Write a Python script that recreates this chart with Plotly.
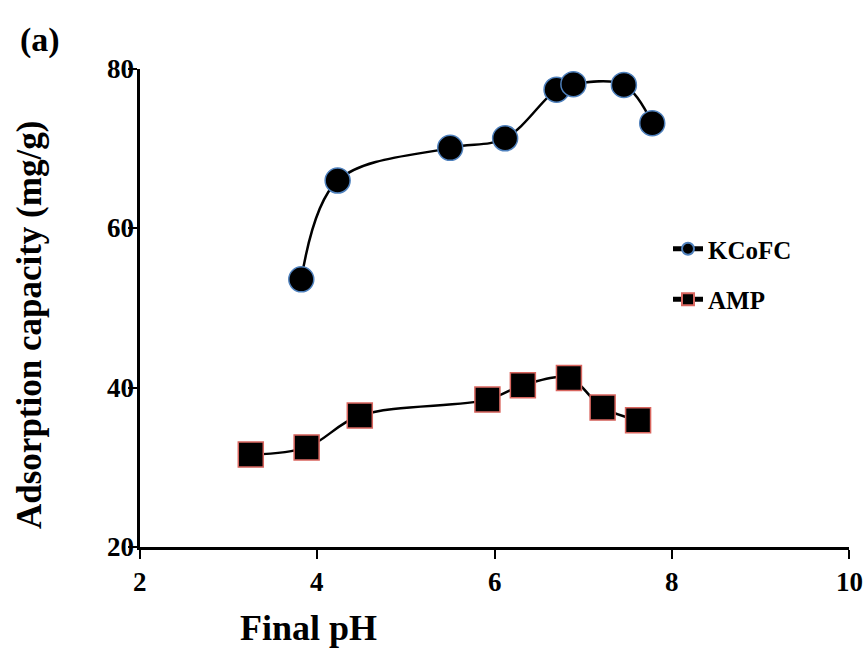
import plotly.graph_objects as go

# Data
kcofc_ph = [3.82, 4.23, 5.50, 6.12, 6.70, 6.89, 7.46, 7.78]
kcofc_q = [53.6, 66.0, 70.1, 71.3, 77.4, 78.1, 78.0, 73.2]
amp_ph = [3.25, 3.88, 4.48, 5.92, 6.32, 6.84, 7.22, 7.62]
amp_q = [31.6, 32.5, 36.5, 38.5, 40.3, 41.2, 37.5, 35.9]
x_ticks = [2, 4, 6, 8, 10]
y_ticks = [20, 40, 60, 80]

FONT = "Liberation Serif"
L, R, T, B = 140, 18, 69, 117
W, H = 867, 664
pw, ph = W - L - R, H - T - B


def px(xp):
    return (xp - L) / pw


def py(yp):
    return (H - B - yp) / ph


fig = go.Figure()
fig.add_trace(go.Scatter(
    x=kcofc_ph, y=kcofc_q, name="KCoFC", mode="lines+markers",
    legendgroup="a",
    line=dict(color="black", width=2.5, shape="spline", smoothing=1.0),
    marker=dict(symbol="circle", size=25, color="black",
                line=dict(color="#4f81bd", width=1.5)),
))
fig.add_trace(go.Scatter(
    x=amp_ph, y=amp_q, name="AMP", mode="lines+markers",
    legendgroup="b",
    line=dict(color="black", width=2.5, shape="spline", smoothing=1.0),
    marker=dict(symbol="square", size=25, color="black",
                line=dict(color="#d9665f", width=1.5)),
))

TICK_SIZE = 27
annotations = [
    dict(text="<b>Final pH</b>", x=px(308), y=py(628),
         xanchor="center", yanchor="middle", xref="paper", yref="paper",
         showarrow=False, font=dict(family=FONT, size=36)),
    dict(text="<b>Adsorption capacity (mg/g)</b>", x=px(29), y=py(325),
         xanchor="center", yanchor="middle",
         xref="paper", yref="paper", showarrow=False, textangle=-90,
         font=dict(family=FONT, size=35)),
    dict(text="<b>(a)</b>", x=px(40), y=py(40),
         xanchor="center", yanchor="middle", xref="paper", yref="paper",
         showarrow=False, font=dict(family=FONT, size=34)),
]
# tick labels placed with the axis scales
for v in x_ticks:
    annotations.append(dict(text=f"<b>{v}</b>", x=v, xref="x", y=py(582),
                            yref="paper", xanchor="center", yanchor="middle",
                            showarrow=False,
                            font=dict(family=FONT, size=TICK_SIZE)))
for v in y_ticks:
    annotations.append(dict(text=f"<b>{v}</b>", y=v, yref="y", x=px(136),
                            xref="paper", xanchor="right", yanchor="middle",
                            showarrow=False,
                            font=dict(family=FONT, size=TICK_SIZE)))

fig.update_layout(
    width=W, height=H,
    margin=dict(l=L, r=R, t=T, b=B),
    paper_bgcolor="white", plot_bgcolor="white",
    font=dict(family=FONT, color="black"),
    showlegend=True,
    legend=dict(x=px(668), y=py(226), xanchor="left", yanchor="top",
                font=dict(family=FONT, size=25, color="black", weight="bold"),
                itemsizing="constant", traceorder="grouped",
                tracegroupgap=15, bgcolor="rgba(0,0,0,0)"),
    xaxis=dict(range=[2, 10], tickvals=x_ticks, showticklabels=False,
               showgrid=False, zeroline=False, showline=True,
               linecolor="black", linewidth=2.5, ticks="outside",
               ticklen=9, tickwidth=2, tickcolor="black"),
    yaxis=dict(range=[20, 80], tickvals=y_ticks, showticklabels=False,
               showgrid=False, zeroline=False, showline=True,
               linecolor="black", linewidth=2.5, ticks="outside",
               ticklen=9, tickwidth=2, tickcolor="black"),
    annotations=annotations,
)

fig.write_html("out.html")
